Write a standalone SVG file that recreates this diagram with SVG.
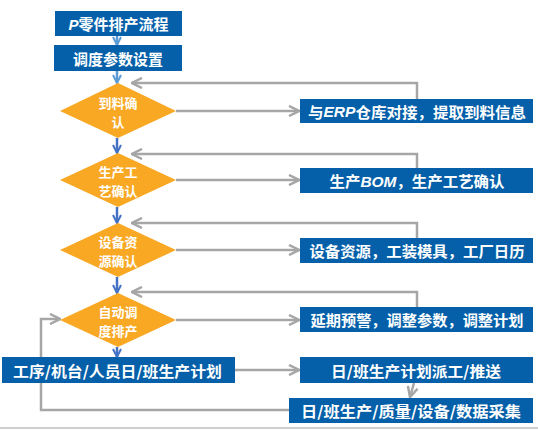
<svg xmlns="http://www.w3.org/2000/svg" width="538" height="430" viewBox="0 0 538 430">
<style>
.box{fill:#0560a9}
.dia{fill:#f9a824}
.t{font-family:"Noto Sans CJK SC","Noto Sans",sans-serif;font-weight:bold;font-size:15px;fill:#fff;text-anchor:middle;dominant-baseline:central}
.dt{font-size:13px}
.g{stroke:#a6a6a6;stroke-width:2.5;fill:none}
.lb{stroke:#5b9bd5;stroke-width:2.5;fill:none}
.db{stroke:#4472c4;stroke-width:2.5;fill:none}
</style>
<defs>
<marker id="ag" viewBox="0 0 10 10" refX="9" refY="5" markerWidth="5" markerHeight="5" orient="auto" markerUnits="strokeWidth"><path d="M1,1 L9,5 L1,9" fill="none" stroke="#a6a6a6" stroke-width="2"/></marker>
<marker id="alb" viewBox="0 0 10 10" refX="9" refY="5" markerWidth="4" markerHeight="4" orient="auto" markerUnits="strokeWidth"><path d="M1,1 L9,5 L1,9" fill="none" stroke="#5b9bd5" stroke-width="2"/></marker>
<marker id="adb" viewBox="0 0 10 10" refX="9" refY="5" markerWidth="4" markerHeight="4" orient="auto" markerUnits="strokeWidth"><path d="M1,1 L9,5 L1,9" fill="none" stroke="#4472c4" stroke-width="2"/></marker>
</defs>
<line x1="0" y1="428" x2="538" y2="428" stroke="#bfbfbf" stroke-width="1.5"/>
<g id="connectors">
<line class="lb" x1="117" y1="36" x2="117" y2="45" marker-end="url(#alb)"/>
<line class="lb" x1="117" y1="71" x2="117" y2="83" marker-end="url(#alb)"/>
<line class="db" x1="117" y1="138" x2="117" y2="153" marker-end="url(#adb)"/>
<line class="db" x1="117" y1="207" x2="117" y2="223" marker-end="url(#adb)"/>
<line class="db" x1="117" y1="277" x2="117" y2="293" marker-end="url(#adb)"/>
<line class="db" x1="117" y1="347" x2="117" y2="357" marker-end="url(#adb)"/>
<line class="g" x1="176" y1="111" x2="299" y2="111" marker-end="url(#ag)"/>
<line class="g" x1="176" y1="180" x2="299" y2="180" marker-end="url(#ag)"/>
<line class="g" x1="176" y1="250" x2="299" y2="250" marker-end="url(#ag)"/>
<line class="g" x1="176" y1="320" x2="299" y2="320" marker-end="url(#ag)"/>
<polyline class="g" points="417,99 417,83 132,83" marker-end="url(#ag)"/>
<polyline class="g" points="417,168 417,154 132,154" marker-end="url(#ag)"/>
<polyline class="g" points="417,238 417,223 132,223" marker-end="url(#ag)"/>
<polyline class="g" points="417,307 417,292 132,292" marker-end="url(#ag)"/>
<line class="g" x1="235" y1="370" x2="299" y2="370" marker-end="url(#ag)"/>
<line class="g" x1="414" y1="383" x2="410" y2="397" marker-end="url(#ag)"/>
<polyline class="g" points="289,410 41,410 41,319 60,319" marker-end="url(#ag)"/>
</g>
<g id="n_title"><rect class="box" x="55" y="11" width="127" height="25"/><text class="t" x="118.5" y="23.5"><tspan font-style="italic" font-family="Liberation Sans">P</tspan>零件排产流程</text></g>
<g id="n_param"><rect class="box" x="54" y="45" width="128" height="26"/><text class="t" x="118" y="58">调度参数设置</text></g>
<g id="n_d1"><polygon class="dia" points="118,83 176,111 118,138 60,111"/><text class="t dt"><tspan x="118" y="101.5">到料确</tspan><tspan x="118" y="120.5">认</tspan></text></g>
<g id="n_d2"><polygon class="dia" points="118,153 176,180 118,207 60,180"/><text class="t dt"><tspan x="118" y="171">生产工</tspan><tspan x="118" y="190">艺确认</tspan></text></g>
<g id="n_d3"><polygon class="dia" points="118,223 176,250 118,277 60,250"/><text class="t dt"><tspan x="118" y="241">设备资</tspan><tspan x="118" y="260">源确认</tspan></text></g>
<g id="n_d4"><polygon class="dia" points="118,293 176,320 118,347 60,320"/><text class="t dt"><tspan x="118" y="311">自动调</tspan><tspan x="118" y="330">度排产</tspan></text></g>
<g id="n_r1"><rect class="box" x="300" y="99" width="233" height="24"/><text class="t" x="417" y="111" textLength="218" lengthAdjust="spacingAndGlyphs">与<tspan font-style="italic" font-family="Liberation Sans">ERP</tspan>仓库对接，提取到料信息</text></g>
<g id="n_r2"><rect class="box" x="300" y="168" width="233" height="25"/><text class="t" x="417" y="180.5" textLength="175" lengthAdjust="spacingAndGlyphs">生产<tspan font-style="italic" font-family="Liberation Sans">BOM</tspan>，生产工艺确认</text></g>
<g id="n_r3"><rect class="box" x="300" y="238" width="233" height="25"/><text class="t" x="417" y="250.5" textLength="215" lengthAdjust="spacingAndGlyphs">设备资源，工装模具，工厂日历</text></g>
<g id="n_r4"><rect class="box" x="300" y="307" width="233" height="25"/><text class="t" x="417" y="319.5" textLength="213" lengthAdjust="spacingAndGlyphs">延期预警，调整参数，调整计划</text></g>
<g id="n_plan"><rect class="box" x="2" y="357" width="233" height="26"/><text class="t" x="117.5" y="370" textLength="209" lengthAdjust="spacingAndGlyphs">工序/机台/人员日/班生产计划</text></g>
<g id="n_dispatch"><rect class="box" x="300" y="357" width="233" height="26"/><text class="t" x="416" y="370" textLength="170" lengthAdjust="spacingAndGlyphs">日/班生产计划派工/推送</text></g>
<g id="n_collect"><rect class="box" x="289" y="398" width="244" height="25"/><text class="t" x="411" y="410.5" textLength="220" lengthAdjust="spacingAndGlyphs">日/班生产/质量/设备/数据采集</text></g>
</svg>
